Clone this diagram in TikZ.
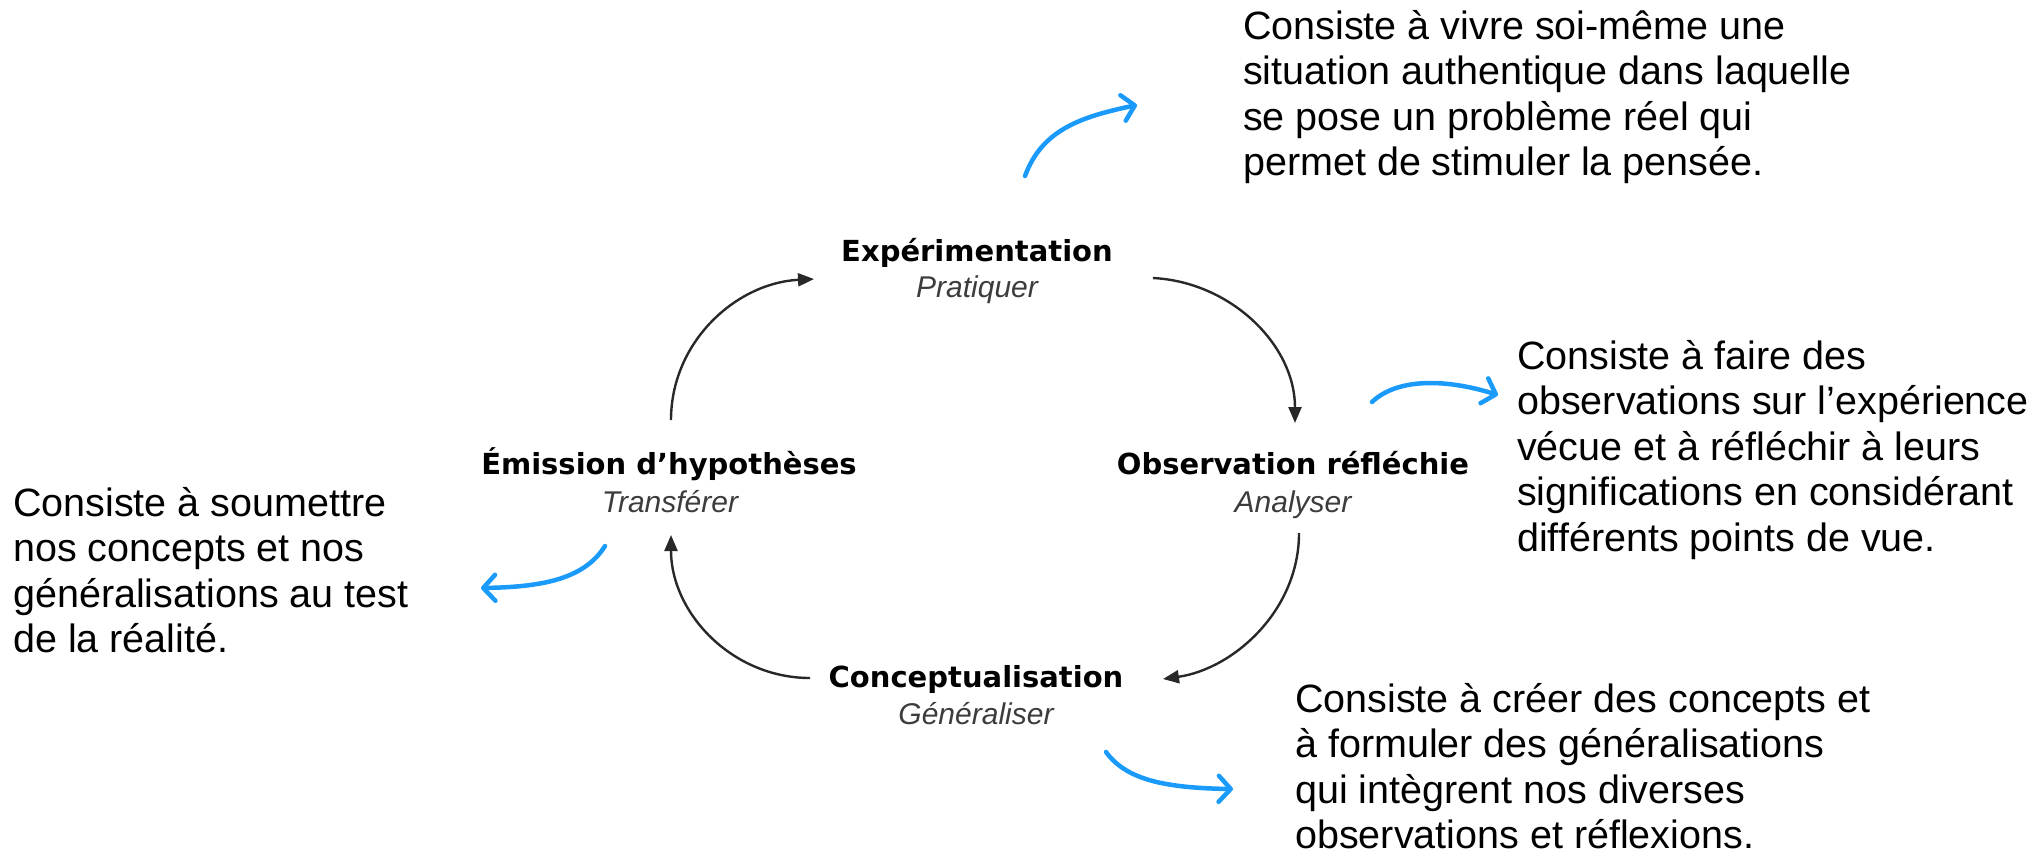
\documentclass[tikz,border=0pt]{standalone}
\usepackage{fontspec}
\setmainfont{Liberation Sans}
\newfontfamily\titlefont{DejaVu Sans}
\usetikzlibrary{arrows.meta,calc}
\definecolor{blueA}{RGB}{26,155,252}
\definecolor{cycgray}{RGB}{40,40,40}
\definecolor{subgray}{RGB}{60,60,60}
\begin{document}
\begin{tikzpicture}[x=1pt,y=-1pt,
  titlelab/.style={font=\titlefont\bfseries\fontsize{29}{34}\selectfont, inner sep=0pt, anchor=base, text=black},
  sublab/.style={font=\itshape\fontsize{30}{36}\selectfont, inner sep=0pt, anchor=base, text=subgray},
  desctext/.style={font=\fontsize{39.5}{45.5}\selectfont, align=left, inner sep=0pt, anchor=north west, text=black},
  cycarrow/.style={draw=cycgray, line width=2.4pt, -{Triangle[length=16pt,width=13pt]}},
  bluearrow/.style={draw=blueA, line width=4.5pt, line cap=round, -{Straight Barb[length=12pt,width=26pt,round]}}
]
\useasboundingbox (0,0) rectangle (2037,856);

% cycle labels
\node[titlelab] (exp) at (977,261) {Expérimentation};
\node[sublab] (expS) at (977,297) {Pratiquer};
\node[titlelab] (obs) at (1293,474) {Observation réfléchie};
\node[sublab] (obsS) at (1293,512) {Analyser};
\node[titlelab] (con) at (976,687) {Conceptualisation};
\node[sublab] (conS) at (976,724) {Généraliser};
\node[titlelab] (hyp) at (669,474) {Émission d’hypothèses};
\node[sublab] (hypS) at (670,512) {Transférer};

% descriptions
\node[desctext] (dExp) at (1243,10) {Consiste à vivre soi-même une\\situation authentique dans laquelle\\se pose un problème réel qui\\permet de stimuler la pensée.};
\node[desctext] (dObs) at (1517,340) {Consiste à faire des\\observations sur l’expérience\\vécue et à réfléchir à leurs\\significations en considérant\\différents points de vue.};
\node[desctext] (dHyp) at (13,487) {Consiste à soumettre\\nos concepts et nos\\généralisations au test\\de la réalité.};
\node[desctext] (dCon) at (1295,683) {Consiste à créer des concepts et\\à formuler des généralisations\\qui intègrent nos diverses\\observations et réflexions.};

% cycle arrows
\draw[cycarrow] ($(hyp.base)+(2,-54)$) .. controls +(0,-78) and +(-78,4) .. ($(exp.base)+(-163,18)$);
\draw[cycarrow] ($(exp.base)+(176,17)$) .. controls +(78,4) and +(0,-78) .. ($(obs.base)+(2,-51)$);
\draw[cycarrow] ($(obs.base)+(6,59)$) .. controls +(0,78) and +(70,-10) .. ($(con.base)+(187,-8)$);
\draw[cycarrow] ($(con.base)+(-166,-9)$) .. controls +(-78,0) and +(0,78) .. ($(hyp.base)+(2,61)$);

% blue arrows
\coordinate (b1s) at (1025,176); \coordinate (b1e) at (1137,105);
\coordinate (b2s) at (1372,402); \coordinate (b2e) at (1498,395);
\coordinate (b3s) at (605,546);  \coordinate (b3e) at (481,588);
\coordinate (b4s) at (1106,752); \coordinate (b4e) at (1233,789);
\draw[bluearrow] (b1s) .. controls (1042,130) and (1080,117) .. (b1e);
\draw[bluearrow] (b2s) .. controls (1395,380) and (1440,377) .. (b2e);
\draw[bluearrow] (b3s) .. controls (585,578) and (545,587) .. (b3e);
\draw[bluearrow] (b4s) .. controls (1125,778) and (1160,788) .. (b4e);
\end{tikzpicture}
\end{document}
